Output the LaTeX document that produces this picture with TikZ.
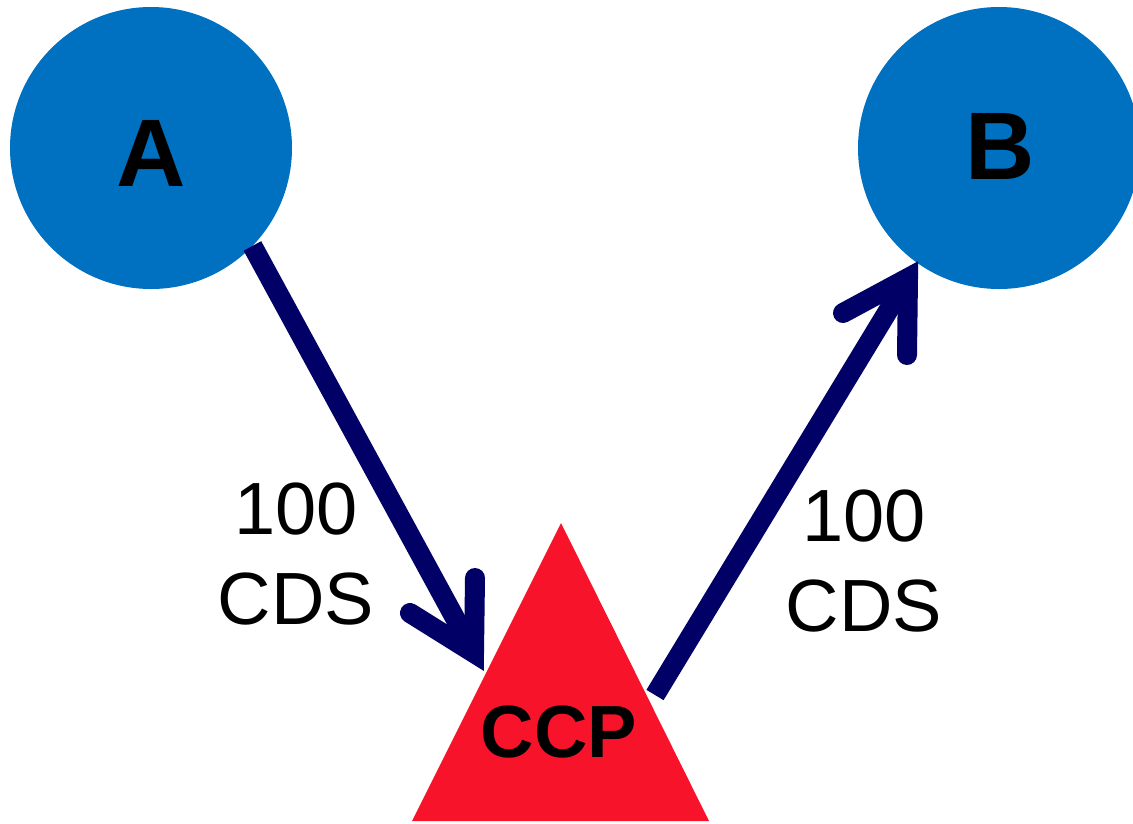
\documentclass[tikz,border=0pt]{standalone}
\usepackage{fontspec}
\setmainfont{Liberation Sans}
\definecolor{partyblue}{RGB}{0,112,192}
\definecolor{ccpred}{RGB}{247,20,43}
\definecolor{flownavy}{RGB}{0,0,102}
\tikzset{
  party/.style={circle, fill=partyblue, minimum size=282pt, inner sep=0pt, outer sep=0pt},
  partyname/.style={font=\bfseries\fontsize{96}{110}\selectfont, inner sep=0pt},
  hubname/.style={font=\bfseries\fontsize{74}{90}\selectfont, inner sep=0pt},
  amount/.style={font=\fontsize{74}{90}\selectfont, align=center, inner sep=0pt},
  shaft/.style={draw=flownavy, line width=20pt, line cap=butt},
  barbs/.style={draw=flownavy, line width=20pt, line cap=round, line join=miter, miter limit=10}
}
\begin{document}
\begin{tikzpicture}[x=1pt, y=-1pt]
  \useasboundingbox (0,0) rectangle (1133,823);

  % counterparties
  \node[party] (A) at (151,148) {};
  \node[party] (B) at (999,148) {};
  \node[partyname] (Aname) at (151,153) {A};
  \node[partyname] (Bname) at (1000,146) {B};

  % central counterparty
  \coordinate (apex) at (561,523);
  \coordinate (baseL) at (412,821);
  \coordinate (baseR) at (709,821);
  \fill[ccpred] (apex) -- (baseR) -- (baseL) -- cycle;
  \node[hubname] (ccp) at (559,732) {CCP};

  % A to CCP
  \coordinate (inTip) at (474,653);
  \coordinate (inBarbL) at (410,613);
  \coordinate (inBarbR) at (475,578);
  \draw[shaft] (A.-44.7) -- (inTip);
  \draw[barbs] (inBarbL) -- (inTip) -- (inBarbR);

  % CCP to B
  \coordinate (outStart) at (655,695);
  \coordinate (outTip) at (908,278);
  \coordinate (outBarbL) at (843,313);
  \coordinate (outBarbR) at (907,355);
  \draw[shaft] (outStart) -- (outTip);
  \draw[barbs] (outBarbL) -- (outTip) -- (outBarbR);

  % notionals
  \node[amount] (leftAmt) at (296,554) {100\\CDS};
  \node[amount] (rightAmt) at (864,561) {100\\CDS};
\end{tikzpicture}
\end{document}
